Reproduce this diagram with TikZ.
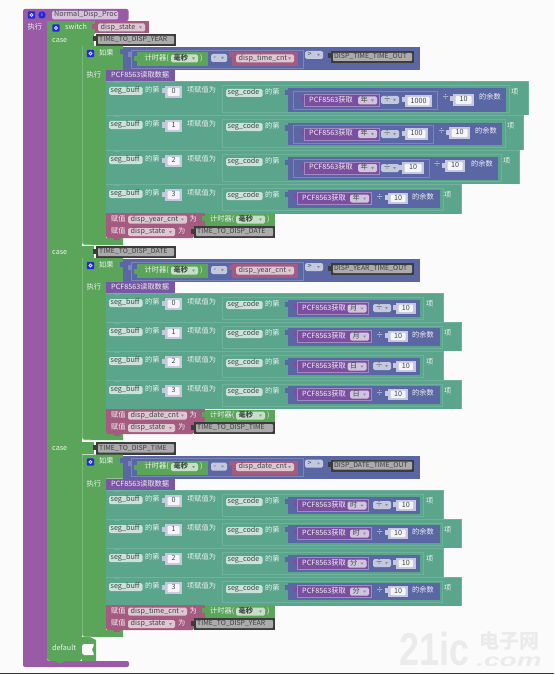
\documentclass[tikz,border=0pt]{standalone}
\usepackage{fontspec}
\setmainfont{Noto Sans CJK SC}
\newfontfamily\wmfont{Liberation Sans}
\definecolor{cPurple}{HTML}{995BA5}
\definecolor{cGreen}{HTML}{5BA55B}
\definecolor{cGreenL}{HTML}{8CC48C}
\definecolor{cIndigo}{HTML}{5B67A5}
\definecolor{cIndigoL}{HTML}{7C86B8}
\definecolor{cTeal}{HTML}{5BA58C}
\definecolor{cTealD}{HTML}{6FB29B}
\definecolor{cPink}{HTML}{A55B80}
\definecolor{cPCF}{HTML}{7A57A5}
\definecolor{cPCFIn}{HTML}{7B4FA0}
\definecolor{cDark}{HTML}{3C3C3C}
\definecolor{cGrey}{HTML}{ABABAB}
\definecolor{cText}{HTML}{F1F1F1}
\definecolor{cLab}{HTML}{3F4A45}
\tikzset{
  txt/.style={anchor=west,inner sep=0pt,text=cText,text height=5pt,text depth=1.5pt,font=\fontsize{7.2}{8}\selectfont},
  dark/.style={txt,text=cLab},
  blk/.style={txt,text=black!75,font=\fontsize{6.9}{8}\selectfont},
  wmark/.style={inner sep=0pt,text=black!8},
}
\newcommand\Tx[3]{\node[txt] at (#1,#2) {#3};}
\newcommand\Dx[3]{\node[dark] at (#1,#2) {#3};}
% tab on the left of a block: x, yc, colour
\newcommand\Tab[3]{\fill[#3] (#1-3,#2-2.5) rectangle (#1+.5,#2+2.5);}
% bump under a statement block: x, y, colour
\newcommand\Bump[3]{\fill[#3] (#1,#2-.2) -- (#1+8,#2-.2) -- (#1+6,#2+2.2) -- (#1+2,#2+2.2) -- cycle;}
% dropdown: x1,x2,yc,fill,text
\newcommand\Drop[5]{%
  \fill[#4,rounded corners=1.5pt] (#1,#3-4) rectangle (#2,#3+4);
  \fill[black!45] (#2-6,#3-1) -- (#2-3,#3-1) -- (#2-4.5,#3+1.2) -- cycle;
  \Dx{#1+2.5}{#3}{#5}}
% label field: x1,x2,yc,text,fill
\newcommand\Lab[5]{%
  \fill[#5,rounded corners=1.5pt] (#1,#3-4) rectangle (#2,#3+4);
  \Dx{#1+1.5}{#3}{#4}}
% number block: x1,x2,y1,y2,text
\newcommand\Num[5]{%
  \Tab{#1}{#3+5}{cIndigoL!45!white}
  \fill[cIndigoL!45!white] (#1,#3) rectangle (#2,#4);
  \fill[white!93!cIndigo,rounded corners=1pt] (#1+2.5,#3+2) rectangle (#2-2.5,#4-2);
  \node[dark,anchor=center] at ({(#1+#2)/2},{(#3+#4)/2}) {#5};}
% black constant block: x1,x2,y1,y2,text
\newcommand\Blk[5]{%
  \Tab{#1}{#3+5}{cDark}
  \fill[cDark] (#1,#3) rectangle (#2,#4);
  \fill[cGrey,rounded corners=.8pt] (#1+2,#3+2) rectangle (#2-2,#4-2);
  \node[blk] at (#1+3,{(#3+#4)/2}) {#5};}
% blue gear icon: x,y
\newcommand\Gear[2]{%
  \fill[blue!62!cIndigo,rounded corners=1pt] (#1-3.7,#2-3.7) rectangle (#1+3.7,#2+3.7);
  \draw[white!85!blue,line width=.9pt] (#1,#2) circle (1.5);}
% purple PCF value: x1,x2,yc,field
\newcommand\Pcf[4]{%
  \Tab{#1}{#3-2}{cPCFIn}
  \fill[cPCFIn] (#1,#3-6) rectangle (#2,#3+6);
  \draw[cPCF!70!white,line width=.3pt] (#1,#3-6) rectangle (#2,#3+6);
  \Tx{#1+5}{#3}{PCF8563获取}
  \Drop{#2-21}{#2-2}{#3}{cPCF!35!white}{#4}}
% teal row frame: top,bottom,right,index,tail x,indigo right
\newcommand\Row[6]{%
  \fill[cTeal] (106,#1) rectangle (#3,#2);
  \draw[cTealD,line width=.5pt] (106.3,#1+.3) -- (#3-.3,#1+.3) -- (#3-.3,#2);
  \draw[cTealD,line width=.5pt] (222,#1+4) -- (#6+3,#1+4) -- (#6+3,#2-3) -- (222,#2-3) -- cycle;
  \Bump{113}{#1}{cTealD}
  \Lab{109}{142.5}{#1+10}{seg\_buff}{cTeal!32!white}
  \Tx{145}{#1+10}{的第}
  \Num{165}{182}{#1+5}{#1+17}{#4}
  \Tx{187}{#1+10}{项赋值为}
  \Lab{226}{262.5}{#1+12}{seg\_code}{cTeal!32!white}
  \Tx{265}{#1+12}{的第}
  \Tx{#5}{#1+12}{项}}
% simple remainder: top, bottom, field
\newcommand\ExprR[3]{%
  \fill[cIndigo] (288,#1+6) rectangle (439.5,#2-5);
  \Tab{288}{#1+10}{cIndigo}
  \Pcf{297}{371}{#1+14.5}{#3}
  \Tx{376}{#1+14}{÷}
  \Num{388}{408}{#1+8.5}{#1+20}{10}
  \Tx{412}{#1+13.5}{的余数}}
% simple with dropdown: top, bottom, field
\newcommand\ExprD[3]{%
  \fill[cIndigo] (288,#1+7) rectangle (420,#2-5);
  \Tab{288}{#1+11}{cIndigo}
  \Pcf{297}{368.5}{#1+15.5}{#3}
  \Drop{373}{391}{#1+15}{cIndigoL!45!white}{÷}
  \Num{396}{415.5}{#1+9.5}{#1+21}{10}}
% if section: top, bottom (if), footTop, var name, black text
\newcommand\IfSec[5]{%
  \fill[cGreen] (82,#1) -- (123,#1) -- (123,#1+24) -- (106,#1+24) -- (106,#3) -- (123,#3) -- (123,#2) -- (85,#2) [rounded corners=3pt] -- (82,#2) [sharp corners] -- cycle;
  \draw[cGreenL,line width=.5pt,rounded corners=3pt] (82.3,#1) -- (82.3,#2-.3) -- (91,#2-.3);
  \Gear{90.5}{#1+7.5}
  \Tx{99}{#1+7.5}{如果}
  \Tx{86.5}{#1+30}{执行}
  % condition
  \fill[cIndigo] (123,#1+1) rectangle (420,#1+24);
  \Tab{123}{#1+6}{cIndigo}
  \draw[cIndigoL,line width=.5pt] (131,#1+4) rectangle (303,#1+22);
  \Tab{131}{#1+9}{cIndigoL}
  \fill[cGreen] (137,#1+6) rectangle (208,#1+20);
  \Tab{137}{#1+13}{cGreen}
  \Tx{144.5}{#1+12.5}{计时器(}
  \Drop{171}{198}{#1+12.5}{cGreen!35!white}{\textbf{毫秒}}
  \Tx{200}{#1+12.5}{)}
  \Drop{211}{227}{#1+12}{cIndigoL!45!white}{-}
  \Tab{232}{#1+9}{cPink}
  \fill[cPink] (232,#1+6) rectangle (298,#1+20);
  \Drop{236}{294}{#1+12.5}{cPink!35!white}{#4}
  \Drop{305}{323}{#1+9}{cIndigoL!45!white}{>}
  \Blk{331}{414}{#1+5}{#1+17}{#5}
  % PCF statement
  \fill[cPCF] (106,#1+24) rectangle (175,#1+35.5);
  \Tx{111}{#1+30}{PCF8563读取数据}
  \Bump{113}{#1+35}{cPCF}}
% pink pair: y, var1, black text
\newcommand\Pair[3]{%
  \fill[cPink] (106,#1) rectangle (205,#1+13);
  \Tx{111}{#1+6.5}{赋值}
  \Drop{128}{187}{#1+6.5}{cPink!35!white}{#2}
  \Tx{189.5}{#1+6.5}{为}
  \fill[cGreen] (205,#1+.5) rectangle (275,#1+13);
  \Tab{205}{#1+5}{cGreen}
  \Tx{210}{#1+6.5}{计时器(}
  \Drop{236}{265}{#1+6.5}{cGreen!35!white}{\textbf{毫秒}}
  \Tx{267}{#1+6.5}{)}
  \fill[cPink,rounded corners=2pt] (106,#1+13) rectangle (194,#1+25);
  \fill[cPink] (106,#1+13) rectangle (194,#1+20);
  \Bump{113}{#1+25}{cPink}
  \Tx{111}{#1+19}{赋值}
  \Drop{128}{175}{#1+19}{cPink!35!white}{disp\_state}
  \Tx{178}{#1+19}{为}
  \Blk{194}{275}{#1+13}{#1+25}{#3}}
\begin{document}
\begin{tikzpicture}[x=1pt,y=-1pt]
\useasboundingbox (0,0) rectangle (554,674);
\fill[white!98.5!black] (0,0) rectangle (554,674);
\fill[black!80] (0,673) rectangle (554,674);
% procedure
\fill[cPurple,rounded corners=2pt] (23,9) -- (128.5,9) -- (128.5,21) -- (47,21) -- (47,661) -- (129,661) -- (129,667) -- (23,667) -- cycle;
\Gear{31.5}{15}
\fill[blue!62!cIndigo] (42,15) circle (3.7);
\node[txt,anchor=center,font=\fontsize{5}{5}\selectfont] at (42,15) {i};
\fill[cPurple!38!white,rounded corners=1.5pt] (52,11) rectangle (118,19.5);
\Dx{54}{15}{Normal\_Disp\_Proc}
\Tx{27.5}{28}{执行}
% switch
\fill[cGreen] (47,21) rectangle (95,34);
\fill[cGreen] (47,34) rectangle (82,650);
\fill[cGreen,rounded corners=3pt] (47,645) -- (47,661) -- (82,661) -- (82,645) -- cycle;
\fill[cGreen] (82,34) rectangle (94,46);
\fill[cGreen] (82,246) rectangle (94,258);
\fill[cGreen] (82,442) rectangle (94,454);
\Gear{56}{28}
\Tx{65}{28}{switch}
\fill[cPink] (95,21.5) rectangle (148.5,33.5);
\Tab{95}{27}{cPink}
\Drop{98}{145}{27.5}{cPink!35!white}{disp\_state}
\Tx{52}{41}{case}
\Tx{52}{253}{case}
\Tx{52}{449}{case}
\Tx{52}{649}{default}
\Blk{96}{176}{34}{46}{TIME\_TO\_DISP\_YEAR}
\Blk{96}{176}{246}{258}{TIME\_TO\_DISP\_DATE}
\Blk{96}{176}{442}{454.5}{TIME\_TO\_DISP\_TIME}
% default notch
\fill[cGreen] (82,637) -- (90,637) -- (96,640) -- (96,661) -- (82,661) -- cycle;
\fill[white!98.5!black,rounded corners=2.5pt] (82,644) -- (95,644) -- (92,648) -- (92,651) -- (95,655) -- (82,655) -- cycle;
\Bump{56}{661}{cGreen}
%
% ===== section 1
\IfSec{46}{245}{238}{disp\_time\_cnt}{DISP\_TIME\_TIME\_OUT}
\Row{81}{115}{528.5}{0}{511}{506}
\fill[cIndigo] (288,88) rectangle (506,112);
\Tab{288}{93}{cIndigo}
\draw[cIndigoL,line width=.5pt] (293,91) rectangle (437,109);
\Pcf{304}{379}{100.5}{年}
\Drop{381}{399}{100}{cIndigoL!45!white}{÷}
\Num{405}{432}{95}{107.5}{1000}
\Tx{442}{98}{÷}
\Num{453}{474}{94}{106}{10}
\Tx{479}{97.5}{的余数}
\Row{115}{150}{524}{1}{507}{502}
\fill[cIndigo] (288,123) rectangle (502,145);
\Tab{288}{128}{cIndigo}
\draw[cIndigoL,line width=.5pt] (293,125) rectangle (433,143);
\Pcf{304}{379}{134}{年}
\Drop{381}{399}{134}{cIndigoL!45!white}{÷}
\Num{405}{428}{128}{140}{100}
\Tx{438}{132}{÷}
\Num{449}{470}{127}{139}{10}
\Tx{475}{131.5}{的余数}
\Row{150}{184}{520}{2}{503}{498}
\fill[cIndigo] (288,156.5) rectangle (498,180);
\Tab{288}{162}{cIndigo}
\draw[cIndigoL,line width=.5pt] (293,159) rectangle (429,177);
\Pcf{304}{379}{168}{年}
\Drop{381}{399}{168}{cIndigoL!45!white}{÷}
\Num{402}{424}{162}{174}{10}
\Tx{433.5}{165}{÷}
\Num{445}{465}{160}{172}{10}
\Tx{471}{165}{的余数}
\Row{184}{213.5}{462}{3}{444}{440}
\ExprR{184}{213}{年}
\Pair{213}{disp\_year\_cnt}{TIME\_TO\_DISP\_DATE}
%
% ===== section 2
\IfSec{258}{440}{433}{disp\_year\_cnt}{DISP\_YEAR\_TIME\_OUT}
\Row{293}{322}{444}{0}{426}{420}
\ExprD{293}{322}{月}
\Row{322}{351}{462}{1}{444}{439.5}
\ExprR{322}{351}{月}
\Row{351}{380}{444}{2}{426}{420}
\ExprD{351}{380}{日}
\Row{380}{409}{462}{3}{444}{439.5}
\ExprR{380}{409}{日}
\Pair{409}{disp\_date\_cnt}{TIME\_TO\_DISP\_TIME}
%
% ===== section 3
\IfSec{454.5}{637}{630}{disp\_date\_cnt}{DISP\_DATE\_TIME\_OUT}
\Row{490}{519}{444}{0}{426}{420}
\ExprD{490}{519}{时}
\Row{519}{548}{462}{1}{444}{439.5}
\ExprR{519}{548}{时}
\Row{548}{577}{444}{2}{426}{420}
\ExprD{548}{577}{分}
\Row{577}{605.5}{462}{3}{444}{439.5}
\ExprR{577}{605}{分}
\Pair{605}{disp\_time\_cnt}{TIME\_TO\_DISP\_YEAR}
%
% watermark
\node[wmark,anchor=base west,xscale=.78,font=\wmfont\bfseries\fontsize{46}{46}\selectfont] at (399,665) {21ic};
\node[wmark,anchor=center,text height=14pt,text depth=2pt,font=\bfseries\fontsize{20}{20}\selectfont] at (509,642) {电子网};
\node[wmark,anchor=base,xscale=1.55,font=\wmfont\bfseries\itshape\fontsize{18}{18}\selectfont] at (509,666) {.com};
\end{tikzpicture}
\end{document}
